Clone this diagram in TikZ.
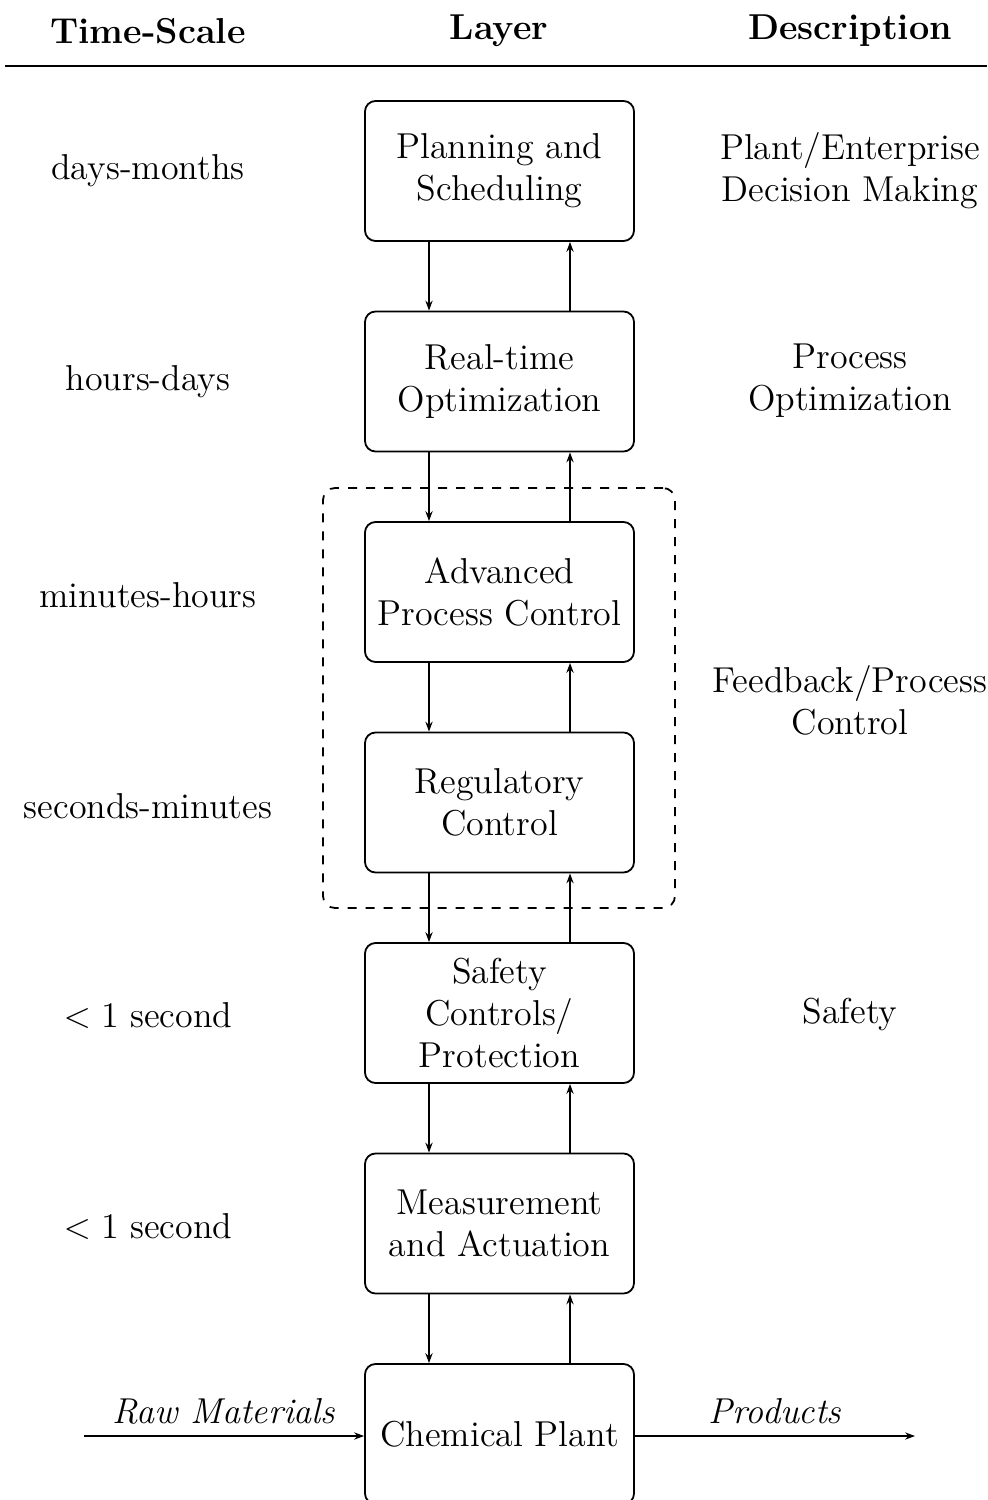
\documentclass[tikz,border=0pt]{standalone}
\usetikzlibrary{arrows.meta}
\begin{document}
\begin{tikzpicture}[x=0.33333pt,y=-0.33333pt,
  every node/.style={font=\fontsize{12}{14}\selectfont, align=center, inner sep=0pt},
  layerbox/.style={draw, semithick, rounded corners=3.5pt, minimum width=89.67pt, minimum height=46.67pt},
  hdr/.style={font=\fontsize{12}{14}\selectfont\bfseries},
  updown/.style={semithick, -{Stealth[length=3.3pt,width=2.4pt]}}
]
\useasboundingbox (0,0) rectangle (987,1500);
% headers
\node[hdr] (h1) at (148,31) {Time-Scale};
\node[hdr] (h2) at (499,31) {Layer};
\node[hdr] (h3) at (850,31) {Description};
\coordinate (r1) at (5,66);
\coordinate (r2) at (987,66);
\draw[line width=0.8pt] (r1) -- (r2);
% layer boxes
\node[layerbox] (ps) at (499.5,171) {Planning and\\Scheduling};
\node[layerbox] (rt) at (499.5,381.5) {Real-time\\Optimization};
\node[layerbox] (apc) at (499.5,592) {Advanced\\Process Control};
\node[layerbox] (reg) at (499.5,802.5) {Regulatory\\Control};
\node[layerbox] (saf) at (499.5,1013) {Safety\\Controls/\\Protection};
\node[layerbox] (mea) at (499.5,1223.5) {Measurement\\and Actuation};
\node[layerbox] (pl) at (499.5,1434) {Chemical Plant};
% vertical arrows
\foreach \a/\b in {ps/rt, rt/apc, apc/reg, reg/saf, saf/mea, mea/pl}{
  \draw[updown] ([xshift=-23.5pt]\a.south) -- ([xshift=-23.5pt]\b.north);
  \draw[updown] ([xshift=23.5pt]\b.north) -- ([xshift=23.5pt]\a.south);
}
% dashed group
\node[draw, dashed, semithick, rounded corners=4pt, minimum width=117.33pt, minimum height=140pt] (grp) at (499,698) {};
% time-scale labels
\node (t1) at (148,171) {days-months};
\node (t2) at (148,382) {hours-days};
\node (t3) at (148,595) {minutes-hours};
\node (t4) at (148,806) {seconds-minutes};
\node (t5) at (148,1015) {$<1$ second};
\node (t6) at (148,1226) {$<1$ second};
% descriptions
\node (d1) at (850,170.5) {Plant/Enterprise\\Decision Making};
\node (d2) at (850,381) {Process\\Optimization};
\node (d3) at (850,700) {Feedback/Process\\Control};
\node (d4) at (850,1014) {Safety};
% raw materials / products
\coordinate (rin) at (84,1436);
\coordinate (pout) at (915,1436);
\draw[updown] (rin) -- (rin -| pl.west);
\draw[updown] (pl.east |- pout) -- (pout);
\node (rm) at (224,1411) {\itshape Raw Materials};
\node (pr) at (775,1411) {\itshape Products};
\end{tikzpicture}
\end{document}
